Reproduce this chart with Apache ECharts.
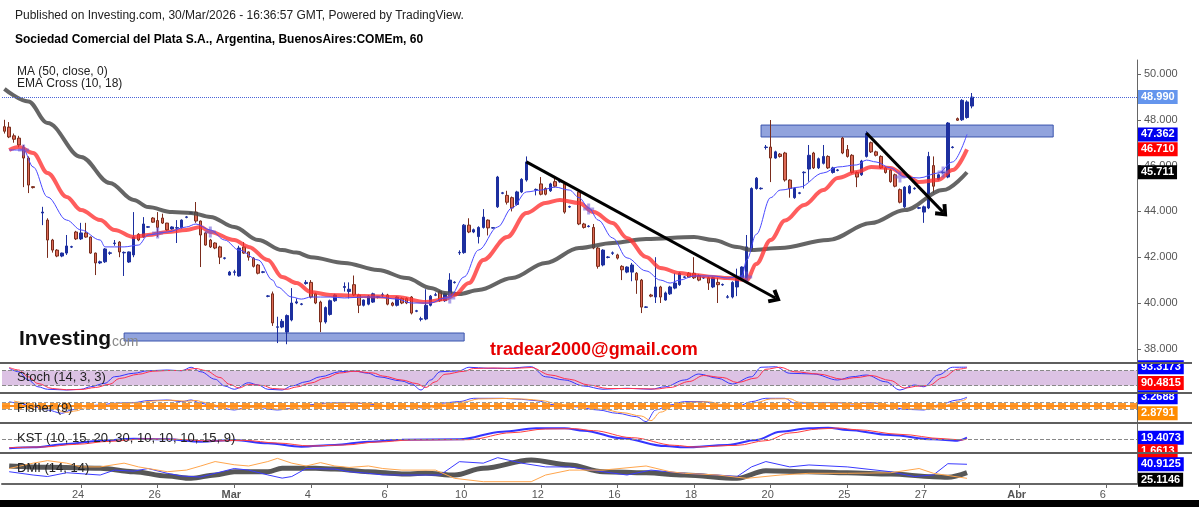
<!DOCTYPE html>
<html><head><meta charset="utf-8">
<script src="https://cdn.jsdelivr.net/npm/echarts@6/dist/echarts.min.js"></script>
<style>html,body{margin:0;padding:0;background:#000;}#c{width:1199px;height:500px;background:#fff;}</style>
</head><body><div id="c"></div>
<script>
const FONT = "'Liberation Sans', Arial, sans-serif";

// ---------- categories / ticks ----------
const tradingDays = ['20/02','23/02','24/02','25/02','26/02','27/02','02/03','03/03','04/03','05/03','06/03','09/03','10/03','11/03','12/03','13/03','16/03','17/03','18/03','19/03','20/03','23/03','25/03','26/03','27/03','30/03'];
const barHours = ['10','11','12','13','14','15','16','17'];
const slotCount = 237;
const tickSlots  = [16, 32, 48, 64, 80, 96, 112, 128, 144, 160, 176, 192, 212, 230];
const tickLabels = ['24','26','Mar','4','6','10','12','16','18','20','25','27','Abr','6'];
const priceTicks = [38, 40, 42, 44, 46, 48, 50];

// ---------- price data: [open, close, low, high] ----------
const candles = [
[47.7,47.5,47.4,48.0],[47.68,47.25,47.2,47.9],[47.3,47.15,47.0,47.4],[47.2,46.9,46.8,47.3],[46.8,46.33,45.06,46.9],
[46.33,45.15,44.8,46.4],[45.08,45.04,45.0,45.1],null,[43.93,43.97,43.4,44.2],[43.62,42.75,41.97,43.7],
[42.75,42.31,42.2,42.8],[42.31,42.05,42.0,42.35],[42.05,42.18,42.0,42.2],[42.18,42.49,42.1,42.97],[42.44,42.46,42.4,42.5],
[43.1,42.8,42.75,43.15],[42.8,43.06,42.75,43.5],[43.06,42.88,42.85,43.5],[42.88,42.18,42.15,42.9],[42.18,41.75,41.22,42.2],
[41.75,41.8,41.7,41.85],[41.8,42.36,41.75,42.4],[42.17,42.19,42.1,42.25],[42.6,42.62,42.5,42.75],[42.66,42.23,42.0,42.7],
[42.19,42.21,41.18,42.25],[41.79,42.23,41.75,42.25],[42.1,42.88,42.0,43.97],[43.0,42.75,42.7,43.05],[42.88,43.45,42.85,43.75],
[43.31,43.33,43.28,43.36],[43.71,43.53,43.5,43.75],[43.6,43.3,42.88,43.97],[43.71,43.49,43.45,43.9],[43.49,43.19,43.15,43.5],
[43.23,43.32,43.2,43.35],[43.27,43.29,42.62,43.62],[43.28,43.62,43.25,43.65],[43.74,43.76,43.7,43.8],[43.92,43.94,43.9,43.97],
[43.97,43.58,43.5,44.41],[43.58,42.97,41.57,43.6],[43.06,42.53,42.5,43.1],[42.75,42.45,42.4,42.8],[42.62,42.4,42.35,42.65],
[42.45,42.0,41.7,42.5],[41.95,41.97,41.9,42.0],[41.22,41.35,41.2,41.4],[41.34,41.36,41.2,41.45],[41.18,42.4,41.15,42.5],
[42.45,42.18,42.15,42.66],[42.23,42.0,41.85,42.25],[41.96,41.6,41.55,42.0],[41.66,41.3,41.25,41.7],[41.34,41.36,41.3,41.4],
[40.29,40.31,40.25,40.35],[40.4,39.13,39.0,40.5],[38.94,38.96,38.25,39.4],[38.95,39.2,38.9,39.3],[38.73,39.45,38.2,39.5],
[39.26,40.0,39.2,40.65],[40.0,40.05,39.95,40.2],[39.94,39.96,39.9,40.0],[40.85,40.9,40.8,41.0],[40.9,40.26,40.2,41.0],
[40.4,40.0,39.95,40.45],[40.04,39.17,38.73,40.1],[39.17,39.8,39.1,39.85],[39.5,40.1,39.45,40.15],[40.1,40.35,40.05,40.4],
null,[40.68,40.72,40.5,40.9],[40.5,40.6,40.2,40.9],[40.8,40.35,40.3,41.2],[40.35,39.9,39.56,40.4],
[39.9,40.13,39.85,40.15],[39.95,40.3,39.9,40.35],[40.04,40.4,40.0,40.45],[40.25,40.27,40.2,40.3],[40.34,40.36,40.25,40.45],
[40.35,39.95,39.9,40.4],[40.0,39.9,39.85,40.05],[39.9,40.26,39.85,40.3],[40.2,40.0,39.95,40.25],[40.2,40.0,39.95,40.25],
[40.26,39.56,39.5,40.3],[39.64,39.66,39.6,39.7],[39.29,39.31,39.2,39.4],[39.3,39.9,39.25,40.6],[39.9,40.3,39.85,40.35],
[40.34,40.36,40.3,40.45],[40.5,40.1,40.05,40.55],[40.1,40.4,40.05,40.45],[40.3,41.0,40.25,41.3],[40.89,40.91,40.85,40.95],
[42.19,42.21,42.1,42.3],[42.2,43.4,42.15,43.45],[43.4,43.1,43.05,43.7],[43.1,43.2,43.05,43.25],[42.9,43.3,42.6,43.35],
[43.3,43.75,43.25,44.1],[43.62,43.28,42.95,43.65],[43.27,43.29,43.25,43.3],[44.2,45.5,44.15,45.55],[44.79,44.81,44.75,44.85],
[44.7,44.4,44.3,44.9],[44.6,44.15,44.0,44.65],[44.3,44.85,44.25,44.9],[44.85,45.4,44.8,45.45],[45.37,46.16,45.3,46.4],
null,[44.94,44.96,44.7,45.0],[45.2,44.75,44.7,45.5],[45.0,44.75,44.7,45.05],[44.9,45.2,44.85,45.25],
[45.3,45.1,45.05,45.55],[45.29,45.31,45.25,45.35],[45.2,43.97,43.9,45.25],[44.19,44.21,44.15,44.25],null,
[44.85,43.45,43.4,44.95],[43.45,43.3,43.25,43.5],[43.34,43.36,43.3,43.4],[43.3,42.4,42.35,43.45],[42.4,41.6,41.5,42.45],
[41.66,42.31,41.6,42.35],[41.99,42.01,41.95,42.05],[42.17,42.19,42.1,42.25],[42.1,41.96,41.9,42.15],[41.6,41.45,41.0,41.65],
[41.35,41.57,41.3,41.6],[41.35,41.66,40.95,41.75],[41.3,41.0,40.4,41.35],[41.0,39.82,39.56,41.05],[39.81,39.83,39.78,39.86],
[40.35,40.3,40.25,40.4],[40.26,40.7,40.0,42.0],[40.7,40.26,40.0,40.75],[40.13,40.44,40.1,40.5],[40.4,40.7,40.35,40.75],
[40.65,40.87,40.6,41.3],[40.8,41.3,40.75,41.35],[41.12,41.14,41.1,41.17],[41.3,41.13,41.1,41.35],[41.3,41.1,41.05,42.0],
[41.2,41.0,40.95,41.25],[41.09,41.11,41.05,41.15],[41.1,40.87,40.57,41.15],[40.7,41.1,40.65,41.15],[40.9,40.8,40.0,41.1],
[40.79,40.81,40.75,40.85],[40.25,40.27,40.2,40.35],[40.26,40.9,40.2,40.95],[40.7,41.1,40.3,41.5],[41.1,41.57,41.05,41.6],
[41.0,42.45,40.95,42.97],[42.3,45.0,42.25,45.05],[45.0,45.45,44.95,45.5],[44.99,45.01,44.95,45.05],[46.79,46.81,46.7,46.9],
[46.81,46.33,45.28,47.99],[46.33,46.6,46.3,46.65],[46.5,46.4,46.35,46.55],[46.55,45.37,45.3,46.6],[45.37,45.0,44.6,45.4],
[44.6,45.0,44.55,45.05],[44.79,44.81,44.75,44.85],[45.69,45.71,45.0,45.75],[45.85,46.45,45.3,46.9],[46.55,45.9,45.85,46.6],
[45.9,46.3,45.85,46.35],[46.1,46.4,46.05,46.9],[46.4,45.9,45.85,46.45],[45.7,45.9,45.65,45.95],[45.79,45.81,45.75,45.85],
[47.2,46.55,46.5,47.25],[46.7,46.4,46.35,46.9],[46.45,45.7,45.65,46.5],[45.7,45.5,45.06,45.75],[45.6,46.2,45.55,46.25],
[46.4,47.4,46.35,47.5],[47.0,46.6,46.55,47.05],[46.6,46.45,46.4,46.65],[46.4,45.9,45.85,46.45],[45.9,45.7,45.65,45.95],
[45.8,45.3,45.25,45.85],[45.6,45.1,45.05,45.65],[44.95,44.4,44.35,45.0],[44.2,45.06,44.15,45.1],[44.8,45.1,44.75,45.15],
[44.99,45.01,44.95,45.05],[44.14,44.16,44.1,44.2],[43.97,44.2,43.5,44.25],[44.15,46.4,44.1,46.6],[46.0,45.1,44.8,46.4],
[45.4,45.6,45.35,45.65],[45.69,45.71,45.65,45.75],[45.5,47.86,45.45,47.9],[46.79,46.81,46.75,46.85],[48.05,47.98,47.95,48.1],
[48.0,48.85,47.95,48.9],[48.1,48.78,48.05,48.85],[48.6,48.99,48.5,49.17]
];

// ---------- overlays: [slot, value] ----------
const ma50 = [[0,49.35],[5,48.8],[9,47.86],[16,46.38],[22,45.24],[27,44.5],[30,44.19],[35,43.97],[39,43.93],[43,43.76],[48,43.32],[53,42.75],[58,42.31],[61,42.2],[64,42.0],[71,41.75],[78,41.44],[84,41.09],[89,40.66],[92,40.44],[95,40.39],[99,40.57],[106,41.09],[113,41.75],[120,42.4],[127,42.62],[134,42.79],[144,42.88],[148,42.75],[153,42.45],[156,42.31],[162,42.4],[172,42.75],[181,43.49],[188,44.06],[196,44.93],[201,45.711]];
const ema18 = [[1,46.68],[3,46.81],[6,46.55],[9,45.68],[13,44.63],[16,44.06],[20,43.62],[23,43.19],[27,42.88],[30,42.97],[34,43.1],[38,43.19],[41,43.32],[43,43.1],[48,42.75],[51,42.45],[55,41.88],[58,41.14],[61,40.87],[64,40.48],[68,40.35],[75,40.31],[82,40.26],[88,40.04],[92,40.17],[94,40.35],[97,40.87],[100,41.88],[105,42.88],[109,43.93],[113,44.37],[116,44.5],[120,44.37],[123,43.97],[127,43.49],[130,42.84],[134,42.01],[137,41.53],[141,41.31],[144,41.22],[148,41.14],[151,41.09],[155,41.0],[157,41.7],[160,42.75],[163,43.6],[167,44.28],[171,44.93],[174,45.46],[178,45.72],[181,45.94],[185,45.9],[188,45.59],[191,45.28],[195,45.37],[198,45.81],[201,46.71]];
const ema10 = [[1,46.68],[4,46.68],[6,45.94],[9,44.63],[13,43.62],[16,43.19],[20,42.75],[21,42.45],[25,42.45],[28,42.53],[30,42.97],[34,43.1],[38,43.32],[40,43.45],[43,43.19],[46,42.75],[49,42.31],[53,41.88],[56,41.0],[57,40.7],[60,40.26],[62,40.17],[64,40.26],[68,40.26],[71,40.22],[75,40.26],[78,40.26],[82,40.17],[85,40.0],[89,40.0],[92,40.22],[93,40.26],[96,41.14],[99,42.31],[103,43.32],[106,44.15],[109,44.85],[112,44.93],[115,45.06],[118,44.93],[120,44.6],[122,44.15],[124,43.62],[127,42.84],[130,41.97],[134,41.4],[137,41.0],[139,40.87],[141,41.0],[144,41.18],[148,41.18],[151,41.09],[154,41.18],[155,41.88],[157,43.0],[160,44.6],[162,44.93],[166,45.06],[171,45.68],[174,45.94],[178,46.03],[180,46.24],[182,46.16],[185,45.9],[188,45.5],[191,45.46],[195,45.68],[198,46.16],[201,47.362]];
const crossPoints = [[4,46.68],[32,43.06],[43,43.1],[93,40.22],[122,44.1],[155,41.14],[187,45.5],[196,45.72]];
const zoneBoxes = [[25,38.69,96,38.34],[158,47.77,219,47.25]];     // [fromSlot, top, toSlot, bottom]
const trendLines = [[109,46.16,161,40.22],[180,47.42,196,43.97]];  // [fromSlot, fromValue, toSlot, toValue]
const priceTags = [['48.990',48.99],['47.362',47.362],['46.710',46.71],['45.711',45.711]];

// ---------- indicators: [slot, value] ----------
const stochK = [[1,89],[3,75],[5,42],[7,15],[9,5],[13,2],[16,5],[18,15],[21,29],[23,55],[27,69],[30,79],[34,82],[37,79],[39,93],[41,75],[44,45],[46,18],[48,5],[51,31],[53,22],[55,5],[58,2],[60,18],[63,35],[66,55],[70,75],[73,78],[76,69],[78,55],[83,38],[85,26],[87,2],[89,42],[91,75],[95,79],[97,93],[101,89],[105,89],[110,95],[113,55],[117,42],[121,18],[125,5],[130,9],[135,5],[138,15],[142,42],[145,66],[149,49],[152,26],[156,55],[158,93],[161,95],[164,69],[169,66],[174,42],[177,55],[180,62],[184,35],[187,2],[190,22],[192,15],[195,62],[198,93],[201,93.32]];
const stochD = [[1,92],[3,82],[5,55],[7,28],[10,8],[13,3],[16,4],[19,12],[22,25],[24,48],[28,65],[31,77],[34,80],[37,80],[40,88],[42,80],[45,52],[47,25],[49,10],[51,24],[54,20],[56,8],[59,5],[61,14],[64,30],[67,50],[70,70],[73,77],[77,70],[79,58],[83,42],[86,28],[88,12],[90,35],[92,65],[96,77],[98,88],[102,90],[106,88],[110,92],[114,62],[118,45],[122,22],[126,8],[131,8],[136,6],[139,12],[143,36],[146,60],[150,52],[153,32],[157,50],[159,85],[162,93],[165,75],[170,66],[175,45],[178,52],[181,60],[185,40],[188,10],[191,18],[193,20],[196,52],[199,85],[201,90.48]];
const fisher = [[1,1.56],[3,0.93],[6,-0.39],[9,-1.67],[12,-2.96],[14,-1.67],[16,-0.39],[20,0.26],[23,0.93],[27,1.2],[30,1.95],[34,2.2],[37,1.56],[39,2.2],[41,0.93],[44,-0.39],[48,-1.67],[51,-0.39],[53,-0.65],[57,-1.67],[60,-1.0],[63,0.26],[67,0.93],[72,1.2],[76,0.65],[79,-0.13],[83,-0.39],[85,-0.39],[88,-1.0],[91,0.93],[95,1.56],[98,2.85],[104,2.85],[108,2.46],[111,1.95],[115,0.26],[119,-0.39],[124,-1.67],[128,-2.96],[132,-4.25],[134,-6.2],[136,-1.67],[139,0.26],[142,1.56],[146,1.56],[149,0.26],[153,-0.39],[156,1.56],[159,2.85],[163,2.85],[165,0.93],[170,1.2],[174,1.2],[177,0.65],[181,1.2],[185,-0.39],[188,-1.4],[192,-1.67],[195,0.26],[199,2.2],[201,3.27]];
const fisherTrigger = [[2,1.8],[4,1.2],[7,0.1],[10,-1.2],[13,-2.6],[15,-2.0],[17,-0.8],[21,0.1],[24,0.8],[28,1.1],[31,1.8],[35,2.1],[38,1.7],[40,2.0],[42,1.2],[45,-0.1],[49,-1.4],[52,-0.6],[54,-0.6],[58,-1.5],[61,-1.1],[64,0.1],[68,0.8],[73,1.1],[77,0.8],[80,0.0],[84,-0.3],[89,-0.9],[92,0.6],[96,1.4],[99,2.6],[105,2.8],[109,2.5],[112,2.0],[116,0.5],[120,-0.3],[125,-1.4],[129,-2.7],[133,-4.0],[135,-5.8],[137,-2.5],[140,0.0],[143,1.3],[147,1.5],[150,0.4],[154,-0.2],[157,1.2],[160,2.6],[164,2.7],[166,1.3],[171,1.1],[175,1.1],[178,0.7],[182,1.1],[186,-0.1],[189,-1.2],[193,-1.5],[196,0.0],[200,1.9],[201,2.88]];
const kst = [[1,-140],[6,-125],[13,-75],[20,-25],[27,5],[34,-5],[41,-40],[48,-15],[55,-65],[62,-115],[69,-90],[76,-40],[83,-10],[95,-5],[104,110],[111,160],[117,160],[121,125],[129,10],[138,-105],[142,-125],[151,-90],[157,-15],[162,110],[168,160],[172,170],[176,135],[185,60],[194,-5],[199,-25],[201,19.4]];
const kstSignal = [[1,-130],[8,-120],[15,-80],[22,-35],[29,0],[36,-5],[43,-30],[50,-20],[57,-60],[64,-105],[71,-90],[78,-45],[85,-15],[97,-10],[106,95],[113,150],[119,155],[123,125],[131,20],[140,-95],[144,-120],[153,-95],[159,-25],[164,90],[170,150],[174,165],[178,140],[187,70],[196,5],[200,-15],[201,1.66]];
const adx = [[1,37.7],[9,35.2],[20,33.4],[27,27],[34,18.9],[39,14.6],[44,20.8],[48,27],[55,27],[58,33.4],[65,33.4],[69,32],[76,27],[83,22.7],[88,24],[94,20.8],[100,33.4],[110,49],[118,39.6],[125,27],[134,25],[142,20.8],[153,14.6],[159,28.9],[168,27],[176,25],[185,22.7],[194,17.6],[197,16.5],[201,25.11]];
const diPlus = [[1,27],[6,20.8],[9,18],[13,25.1],[20,20.8],[23,30],[27,28],[30,33],[34,24],[37,19],[41,17],[44,24],[48,33],[51,30],[55,21],[58,15],[60,18],[63,33],[69,32],[72,27],[76,24],[79,21],[83,20.8],[91,20.8],[95,45.8],[100,43],[103,53.3],[108,43],[113,36],[118,36],[125,27],[130,20.8],[135,30],[142,24],[149,20.8],[153,18],[156,36],[159,46],[164,36],[168,39.6],[176,36],[185,27],[190,18],[194,21],[197,42],[201,40.91]];
const diMinus = [[1,33],[6,43],[9,47.7],[13,43],[16,36],[20,36],[25,43],[28,36],[34,27],[38,30],[41,37.7],[44,46],[48,40],[51,37.7],[55,46],[57,52],[60,43],[63,37.7],[66,44],[69,37.7],[72,35],[76,37.7],[79,33],[83,30],[90,30],[94,14.6],[100,8.3],[110,8.3],[113,20.8],[118,30],[125,30],[134,37.7],[139,27],[142,24],[149,20.8],[155,14.6],[162,20.8],[168,24],[176,24],[185,25],[191,33],[194,24],[201,14.6]];

// last-value tags of the lower panes: [text, level where the tag sits, colour]
const paneTags = [
  [['93.3173',93.3173,'#0000ff'],['90.4815',30,'#ff0000']],
  [['3.2688',3.2688,'#0000ff'],['2.8791',-2.9,'#ff8c00']],
  [['19.4073',19.4073,'#0000ff'],['1.6613',-185,'#ff0000']],
  [['40.9125',40.9125,'#0000ff'],['25.1146',12,'#000000']]
];

// ---------- layout ----------
const paneTops = [60, 363, 393, 423, 453];
const paneHeights = [303, 30, 30, 30, 31];
const yRanges = [[37.38, 50.611], [-10, 110], [-6.7, 4.9], [-210, 240], [4, 62]];

const categories = [];
tradingDays.forEach(d => barHours.forEach(h => categories.push(d + ' ' + h + ':00')));
while (categories.length < slotCount) categories.push('+' + categories.length);
const candleData = candles.map(c => c ? c : ['-','-','-','-']);
const isTick = i => tickSlots.indexOf(i) >= 0;

const grids = paneTops.map((t, i) => ({left: 2, right: 62, top: t, height: paneHeights[i], outerBoundsMode: 'none', containLabel: false}));
const xAxes = paneTops.map((t, i) => ({
  type: 'category', gridIndex: i, data: categories, boundaryGap: true,
  axisLine: {show: i === 4, lineStyle: {color: '#666', width: 2}},
  axisTick: {show: i === 4, alignWithLabel: true, interval: isTick, length: 4, lineStyle: {color: '#666'}},
  axisLabel: {show: i === 4, interval: isTick, margin: 5, padding: [0, 6, 0, 0], color: '#555', fontSize: 11, fontFamily: FONT,
    formatter: (v, idx) => { const k = tickSlots.indexOf(idx); if (k < 0) return ''; const s = tickLabels[k]; return /[A-Za-z]/.test(s) ? '{b|' + s + '}' : s; },
    rich: {b: {fontWeight: 'bold', fontSize: 11, color: '#555', fontFamily: FONT}}},
  splitLine: {show: false}
}));
const yAxes = paneTops.map((t, i) => ({
  type: 'value', gridIndex: i, position: 'right', min: yRanges[i][0], max: yRanges[i][1], scale: true,
  axisLine: {show: true, onZero: false, lineStyle: {color: '#666', width: 1}},
  axisTick: {show: true, length: 4, lineStyle: {color: '#666'},
    customValues: i === 0 ? priceTicks : paneTags[i - 1].map(p => p[1])},
  axisLabel: {show: i === 0, customValues: priceTicks, formatter: v => v.toFixed(3), color: '#555', fontSize: 11, margin: 7, fontFamily: FONT},
  splitLine: {show: false}
}));

const HIDDEN = {color: 'rgba(0,0,0,0)', width: 1, type: 'solid'};
function tag(text, at, bg) {
  return {yAxis: at, lineStyle: HIDDEN,
    label: {show: true, position: 'end', distance: 1, formatter: text, backgroundColor: bg, color: '#fff',
      fontSize: 11, fontWeight: 'bold', fontFamily: FONT, padding: [2, 3, 1, 3]}};
}
function level(v, color, type, width) {
  return {yAxis: v, lineStyle: {color: color, type: type, width: width}, label: {show: false}};
}
function line(pane, data, color, width, extra) {
  return Object.assign({type: 'line', xAxisIndex: pane, yAxisIndex: pane, data: data, symbol: 'none',
    smooth: 0.35, smoothMonotone: 'x', silent: true, z: 3, lineStyle: {color: color, width: width}}, extra || {});
}
const arrowHead = 'path://M0,9 L8,0 L16,9 L13,11.5 L8,5.5 L3,11.5 Z';
const tagColors = ['#6495ed', '#0000ee', '#ff0000', '#000000'];

const series = [
  {type: 'candlestick', xAxisIndex: 0, yAxisIndex: 0, data: candleData, barWidth: 3, silent: true, z: 2,
    itemStyle: {color: '#1d2f9f', color0: '#dd6a55', borderColor: '#1d2f9f', borderColor0: '#7a2c1c', borderWidth: 1},
    markArea: {silent: true, z: 1, itemStyle: {color: 'rgba(118,140,212,0.8)', borderColor: '#3b54ad', borderWidth: 1},
      data: zoneBoxes.map(b => [{coord: [b[0], b[1]]}, {coord: [b[2], b[3]]}])},
    markLine: {silent: true, symbol: ['none', 'none'], animation: false,
      data: trendLines.map(t => [
        {coord: [t[0], t[1]], symbol: 'none', lineStyle: {color: '#000', width: 3, type: 'solid'}, label: {show: false}},
        {coord: [t[2], t[3]], symbol: arrowHead, symbolSize: [16, 12]}
      ]).concat(priceTags.map((p, k) => {
        const o = tag(p[0], p[1], tagColors[k]);
        if (k === 0) o.lineStyle = {color: '#4a64d8', type: 'dotted', width: 1};
        return o;
      }))}},
  line(0, ma50, '#4a4a4a', 4, {lineStyle: {color: '#4a4a4a', width: 4, opacity: 0.85}}),
  line(0, ema18, '#ff3030', 4, {lineStyle: {color: '#ff3030', width: 4, opacity: 0.78}}),
  line(0, ema10, '#4a4aff', 1),
  {type: 'scatter', xAxisIndex: 0, yAxisIndex: 0, data: crossPoints, silent: true, z: 4,
    symbol: 'path://M4,0 L7,0 L7,4 L11,4 L11,7 L7,7 L7,11 L4,11 L4,7 L0,7 L0,4 L4,4 Z', symbolSize: 11,
    itemStyle: {color: 'rgba(105,85,215,0.7)'}},

  line(1, stochK, '#3535ff', 1, {
    markArea: {silent: true, itemStyle: {color: '#dcc2e4'}, data: [[{yAxis: 20}, {yAxis: 80}]]},
    markLine: {silent: true, symbol: 'none', data: [level(80, '#888', 'dashed', 1), level(20, '#888', 'dashed', 1)]
      .concat(paneTags[0].map(p => tag(p[0], p[1], p[2])))}}),
  line(1, stochD, '#ff3050', 1),

  line(2, fisher, '#4040ff', 1, {
    markLine: {silent: true, symbol: 'none', data: [level(1.5, '#999', 'dashed', 1), level(-1.5, '#999', 'dashed', 1),
      level(0.75, '#ff9a2e', 'dashed', 2), level(-0.75, '#ff9a2e', 'dashed', 2), level(0, '#ff8c1a', 'solid', 2)]
      .concat(paneTags[1].map(p => tag(p[0], p[1], p[2])))}}),
  line(2, fisherTrigger, '#ffa040', 1),

  line(3, kst, '#3535ff', 2, {
    markLine: {silent: true, symbol: 'none', data: [level(0, '#888', 'dashed', 1)]
      .concat(paneTags[2].map(p => tag(p[0], p[1], p[2])))}}),
  line(3, kstSignal, '#ff4040', 1),

  line(4, adx, '#3a3a3a', 5, {lineStyle: {color: '#3a3a3a', width: 5, opacity: 0.85},
    markLine: {silent: true, symbol: 'none', data: paneTags[3].map(p => tag(p[0], p[1], p[2]))}}),
  line(4, diPlus, '#3a3aff', 1, {smooth: false}),
  line(4, diMinus, '#ffa64d', 1, {smooth: false})
];

function txt(text, left, top, size, weight, color) {
  return {text: text, left: left, top: top, padding: 0,
    textStyle: {fontSize: size, fontWeight: weight, color: color, fontFamily: FONT, lineHeight: size + 2}};
}
const titles = [
  txt('Published on Investing.com, 30/Mar/2026 - 16:36:57 GMT, Powered by TradingView.', 15, 9, 12, 'normal', '#222'),
  txt('Sociedad Comercial del Plata S.A., Argentina, BuenosAires:COMEm, 60', 15, 33, 12, 'bold', '#000'),
  txt('MA (50, close, 0)', 17, 65, 12, 'normal', '#222'),
  txt('EMA Cross (10, 18)', 17, 77, 12, 'normal', '#222'),
  txt('Investing', 19, 328, 21, 'bold', '#111'),
  txt('.com', 108, 334, 14, 'normal', '#888'),
  txt('tradear2000@gmail.com', 490, 340, 18, 'bold', '#e60000'),
  txt('Stoch (14, 3, 3)', 17, 370, 13, 'normal', '#222'),
  txt('Fisher (9)', 17, 401, 13, 'normal', '#222'),
  txt('KST (10, 15, 20, 30, 10, 10, 10, 15, 9)', 17, 431, 13, 'normal', '#222'),
  txt('DMI (14, 14)', 17, 461, 13, 'normal', '#222')
];

const chart = echarts.init(document.getElementById('c'), null, {renderer: 'canvas'});
chart.setOption({
  animation: false,
  backgroundColor: '#fff',
  title: titles,
  grid: grids, xAxis: xAxes, yAxis: yAxes, series: series,
  graphic: paneTops.slice(1).map(t => ({type: 'line', z: 100, silent: true,
    shape: {x1: 0, y1: t, x2: 1192, y2: t}, style: {stroke: '#5e5e5e', lineWidth: 2}}))
});
</script></body></html>
